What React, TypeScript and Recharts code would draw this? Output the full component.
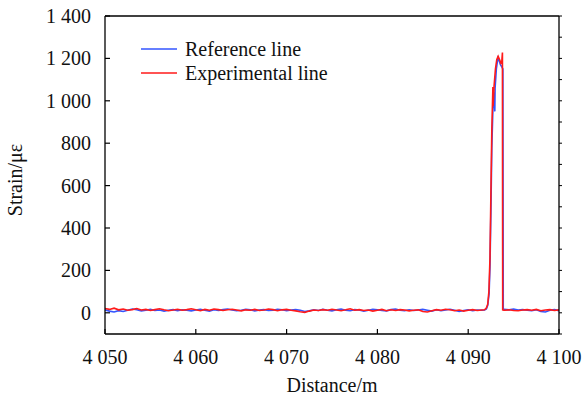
import React from 'react'
import { LineChart, Line, XAxis, YAxis } from 'recharts'

const FONT = '"Liberation Serif", "Times New Roman", serif'
const BLUE = '#3355ff'
const RED = '#ff1a1a'

// baseline sampled every 0.5 m from 4050 to 4091.5
const baseStart = 4050
const baseStep = 0.5
const refBase = [
  14, 8, 4, 10, 6, 12, 18, 14, 9, 12,
  16, 11, 13, 8, 12, 15, 10, 14, 12, 9,
  13, 17, 12, 8, 14, 11, 15, 18, 13, 10,
  12, 16, 14, 9, 13, 15, 11, 12, 17, 14,
  10, 13, 15, 12, 6, 9, 14, 11, 16, 12,
  9, 14, 18, 12, 10, 15, 13, 8, 12, 16,
  14, 11, 9, 15, 18, 12, 10, 14, 11, 13,
  16, 12, 8, 14, 10, 13, 17, 12, 6, 11,
  14, 10, 13, 12,
]
const expBase = [
  20, 16, 22, 14, 18, 12, 15, 20, 13, 16,
  11, 15, 19, 14, 10, 13, 17, 12, 15, 19,
  14, 10, 16, 12, 18, 15, 11, 14, 17, 13,
  9, 14, 12, 16, 11, 13, 18, 15, 10, 14,
  16, 12, 9, 5, 2, 8, 13, 11, 15, 12,
  17, 13, 10, 14, 19, 12, 15, 11, 13, 8,
  12, 16, 10, 14, 11, 15, 13, 9, 12, 14,
  6, 4, 10, 15, 12, 17, 14, 10, 13, 8,
  12, 15, 11, 13,
]

// strain peak
const refPeakDist = [4091.8, 4092.0, 4092.15, 4092.3, 4092.4, 4092.5, 4092.6, 4092.72, 4092.85, 4092.93, 4092.96, 4093.1, 4093.27, 4093.4, 4093.55, 4093.7, 4093.82, 4093.86, 4093.95]
const refPeakVal = [13, 18, 35, 90, 220, 480, 780, 960, 1040, 950, 1060, 1150, 1202, 1190, 1170, 1160, 1150, 18, 14]
const expPeakDist = [4091.8, 4092.0, 4092.15, 4092.28, 4092.4, 4092.5, 4092.6, 4092.72, 4092.74, 4092.85, 4093.0, 4093.15, 4093.3, 4093.45, 4093.6, 4093.7, 4093.77, 4093.8, 4093.95]
const expPeakVal = [14, 22, 40, 100, 260, 560, 860, 1065, 975, 1070, 1150, 1195, 1210, 1195, 1178, 1185, 1228, 14, 12]

// after the peak, every 0.5 m from 4094 to 4100
const tailStart = 4094
const refTail = [16, 14, 18, 13, 15, 12, 10, 14, 6, 4, 12, 15, 10]
const expTail = [12, 14, 11, 10, 13, 15, 12, 16, 10, 13, 15, 11, 14]

const xTicks = [4050, 4060, 4070, 4080, 4090, 4100]
const yTicks = [0, 200, 400, 600, 800, 1000, 1200, 1400]
const yMinorTicks = [-100, 0, 100, 200, 300, 400, 500, 600, 700, 800, 900, 1000, 1100, 1200, 1300, 1400]

function build(base: number[], peakD: number[], peakV: number[], tail: number[]) {
  return [
    ...base.map((s, i) => ({ d: baseStart + i * baseStep, s })),
    ...peakD.map((d, i) => ({ d, s: peakV[i] })),
    ...tail.map((s, i) => ({ d: tailStart + i * baseStep, s })),
  ]
}

const refData = build(refBase, refPeakDist, refPeakVal, refTail)
const expData = build(expBase, expPeakDist, expPeakVal, expTail)

const fmt = (v: number) => String(v).replace(/\B(?=(\d{3})+(?!\d))/g, ' ')

function XTick(props: any) {
  const { x, y, payload } = props
  return (
    <g>
      <line x1={x} x2={x} y1={y - 12} y2={y - 17} stroke="#000" strokeWidth={1.2} />
      <text x={x} y={y + 18} textAnchor="middle" style={{ fontFamily: FONT, fontSize: 20 }} fill="#111">
        {fmt(payload.value)}
      </text>
    </g>
  )
}

function YTick(props: any) {
  const { x, y, payload } = props
  return (
    <g>
      <line x1={x + 14} x2={x + 19} y1={y} y2={y} stroke="#000" strokeWidth={1.2} />
      <text x={x} y={y + 7} textAnchor="end" style={{ fontFamily: FONT, fontSize: 20 }} fill="#111">
        {fmt(payload.value)}
      </text>
    </g>
  )
}

const legendRows = [
  { name: 'Reference line', color: BLUE },
  { name: 'Experimental line', color: RED },
]

function LegendBox() {
  return (
    <div
      style={{
        position: 'absolute',
        left: 141,
        top: 37,
        fontFamily: FONT,
        fontSize: 20,
        color: '#111',
        lineHeight: '24px',
      }}
    >
      {legendRows.map((r) => (
        <div key={r.name} style={{ display: 'flex', alignItems: 'center', height: 24 }}>
          <svg width={36} height={4} style={{ marginRight: 8 }}>
            <line x1={0} x2={36} y1={2} y2={2} stroke={r.color} strokeWidth={1.6} />
          </svg>
          <span>{r.name}</span>
        </div>
      ))}
    </div>
  )
}

export default function App() {
  return (
    <div style={{ position: 'absolute', left: 0, top: 0, width: 583, height: 402, background: '#fff' }}>
      <LineChart width={583} height={402} margin={{ top: 0, right: 0, bottom: 0, left: 0 }}>
        <XAxis
          dataKey="d"
          type="number"
          domain={[4050, 4100]}
          ticks={xTicks}
          height={68}
          allowDataOverflow
          tickLine={false}
          tickSize={0}
          tickMargin={12}
          tick={<XTick />}
          axisLine={{ stroke: '#000', strokeWidth: 1.3 }}
          label={{
            content: (p: any) => (
              <text
                x={p.viewBox.x + p.viewBox.width / 2}
                y={p.viewBox.y + 58}
                textAnchor="middle"
                style={{ fontFamily: FONT, fontSize: 20 }}
                fill="#111"
              >
                Distance/m
              </text>
            ),
          }}
        />
        <XAxis
          xAxisId="top"
          orientation="top"
          type="number"
          domain={[4050, 4100]}
          height={16}
          allowDataOverflow
          tick={false}
          tickLine={false}
          axisLine={{ stroke: '#000', strokeWidth: 1.3 }}
        />
        <YAxis
          type="number"
          domain={[-100, 1400]}
          ticks={yTicks}
          width={105}
          allowDataOverflow
          tickLine={false}
          tickSize={0}
          tickMargin={14}
          tick={<YTick />}
          axisLine={{ stroke: '#000', strokeWidth: 1.3 }}
          label={{
            content: () => (
              <text
                transform="translate(22, 180) rotate(-90)"
                textAnchor="middle"
                style={{ fontFamily: FONT, fontSize: 20 }}
                fill="#111"
              >
                Strain/με
              </text>
            ),
          }}
        />
        <YAxis
          yAxisId="right"
          orientation="right"
          type="number"
          domain={[-100, 1400]}
          ticks={yMinorTicks}
          width={24}
          allowDataOverflow
          tickSize={3}
          tickFormatter={() => ''}
          tickLine={{ stroke: '#000' }}
          axisLine={{ stroke: '#000', strokeWidth: 1.3 }}
        />
        <Line
          data={refData}
          dataKey="s"
          type="linear"
          stroke={BLUE}
          strokeWidth={1.6}
          dot={false}
          isAnimationActive={false}
        />
        <Line
          data={expData}
          dataKey="s"
          type="linear"
          stroke={RED}
          strokeWidth={1.6}
          dot={false}
          isAnimationActive={false}
        />
      </LineChart>
      <LegendBox />
    </div>
  )
}
